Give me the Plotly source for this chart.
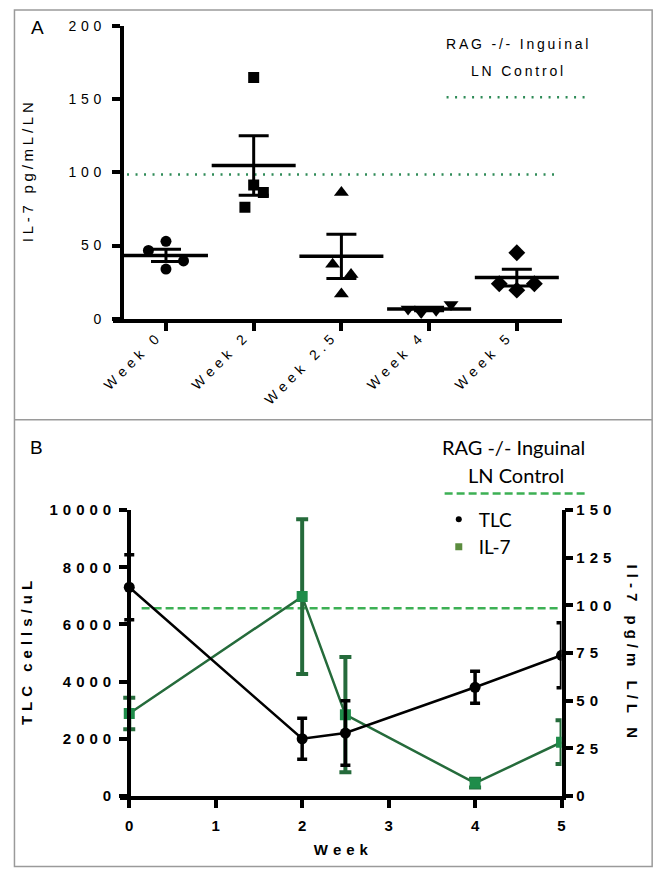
import numpy as np
import plotly.graph_objects as go

W, H = 662, 876

# panel A: IL-7 per lymph node, one value per mouse
WEEKS_A = ["Week 0", "Week 2", "Week 2.5", "Week 4", "Week 5"]
IL7_WEEK0 = [52.9, 46.7, 39.5, 34.0]
IL7_WEEK2 = [164.7, 91.3, 86.2, 76.2]
IL7_WEEK25 = [86.2, 37.3, 30.2, 16.9]
IL7_WEEK4 = [6.8, 4.4, 5.9, 9.8]
IL7_WEEK5 = [45.1, 24.0, 24.0, 19.6]
RAG_CONTROL = 98.5
Y_TICKS_A = [0, 50, 100, 150, 200]

# panel B: total lymphocyte count (mean, error) and IL-7 over time
WEEKS_B = [0, 2, 2.5, 4, 5]
TLC_MEAN = [7300, 2000, 2200, 3800, 4920]
TLC_ERR = [1140, 720, 1130, 560, 1140]
X_TICKS_B = [0, 1, 2, 3, 4, 5]
Y_TICKS_TLC = [0, 2000, 4000, 6000, 8000, 10000]
Y_TICKS_IL7 = [0, 25, 50, 75, 100, 125, 150]

# horizontal scatter of the dots inside each column (in category units)
JITTER = [[0, -0.2, 0.2, 0], [0, 0, 0.11, -0.1], [0, -0.1, 0.11, 0],
          [-0.24, -0.09, 0.08, 0.25], [0, -0.2, 0.2, 0]]
SYMBOLS = ["circle", "square", "triangle-up", "triangle-down", "diamond"]
SIZES = [11, 11, 13, 13, 13]

ARIAL = "Liberation Sans, Arial, sans-serif"
CALIBRI = "Lato, Carlito, sans-serif"
GREEN_LINE = "#256b3b"
GREEN_MARK = "#1f8c4a"
GREEN_CTRL = "#3cb054"
GREEN_DOT = "#2e8b57"
BORDER = "#9a9a9a"


def spaced(s, gap="\u2004"):
    # Prism style letter spacing
    return gap.join(s)


def px(x):
    return x / W


def py(y):
    return 1 - y / H


groups = [IL7_WEEK0, IL7_WEEK2, IL7_WEEK25, IL7_WEEK4, IL7_WEEK5]
pos_a = list(range(len(WEEKS_A)))
means_a = [float(np.mean(g)) for g in groups]
sd_a = [float(np.std(g, ddof=1)) for g in groups]
sem_a = [s / np.sqrt(len(g)) for s, g in zip(sd_a, groups)]

fig = go.Figure()

# ---- panel A ----
for i, g in enumerate(groups):
    fig.add_trace(go.Scatter(
        x=[pos_a[i] + j for j in JITTER[i]],
        y=g,
        mode="markers",
        marker=dict(symbol=SYMBOLS[i], size=SIZES[i], color="black"),
        showlegend=False,
        hoverinfo="y",
        xaxis="x", yaxis="y"
    ))

fig.add_trace(go.Scatter(
    x=pos_a,
    y=means_a,
    mode="markers",
    marker=dict(symbol="line-ew", size=60, line=dict(width=3.5, color="black")),
    error_y=dict(type="data", array=sem_a, thickness=3, width=15, color="black"),
    showlegend=False,
    xaxis="x", yaxis="y"
))

# ---- panel B ----
fig.add_trace(go.Scatter(
    x=WEEKS_B,
    y=means_a,
    mode="lines+markers",
    line=dict(color=GREEN_LINE, width=2.5),
    marker=dict(symbol="square", size=11, color=GREEN_MARK),
    error_y=dict(type="data", array=sd_a, thickness=4, width=6, color=GREEN_LINE),
    showlegend=False,
    xaxis="x2", yaxis="y2"
))

fig.add_trace(go.Scatter(
    x=WEEKS_B,
    y=TLC_MEAN,
    mode="lines+markers",
    line=dict(color="black", width=2.5),
    marker=dict(symbol="circle", size=11, color="black"),
    error_y=dict(type="data", array=TLC_ERR, thickness=3.5, width=5, color="black"),
    showlegend=False,
    xaxis="x2", yaxis="y3"
))

# legend-only entries for panel B
fig.add_trace(go.Scatter(x=[None], y=[None], mode="markers", name="TLC",
                         marker=dict(symbol="circle", size=6, color="black"),
                         xaxis="x2", yaxis="y3"))
fig.add_trace(go.Scatter(x=[None], y=[None], mode="markers", name="IL-7",
                         marker=dict(symbol="square", size=7, color="#5b8c3e"),
                         xaxis="x2", yaxis="y3"))

axis_a = dict(showgrid=False, zeroline=False, showline=True, linecolor="black",
              linewidth=4, ticks="outside", ticklen=8, tickwidth=3.5,
              tickcolor="black")
axis_b = dict(showgrid=False, zeroline=False, showline=True, linecolor="black",
              linewidth=3.5, ticks="outside", ticklen=8, tickwidth=3.5,
              tickcolor="black")
bold_ticks = dict(family=ARIAL, size=15, color="black", weight="bold")

fig.update_layout(
    width=W, height=H, autosize=False,
    margin=dict(l=0, r=0, t=0, b=0),
    plot_bgcolor="white", paper_bgcolor="white",
    xaxis=dict(
        axis_a, domain=[px(103), px(563)], range=[-0.6, 4.51], anchor="y",
        tickvals=pos_a, ticktext=[spaced(w) for w in WEEKS_A], tickangle=-45,
        ticklabelstandoff=-5, ticklabelshift=-11,
        tickfont=dict(family=ARIAL, size=14, color="black")
    ),
    yaxis=dict(
        axis_a, domain=[py(316), py(17)], range=[0, 200], anchor="free",
        position=px(112), tickvals=Y_TICKS_A, ticklabelstandoff=8,
        ticktext=[spaced(str(t)) for t in Y_TICKS_A],
        tickfont=dict(family=ARIAL, size=14, color="black"),
        title=dict(text=spaced("IL-7 pg/mL/LN", "\u2005"), standoff=30,
                   font=dict(family=ARIAL, size=15, color="black"))
    ),
    xaxis2=dict(
        axis_b, domain=[px(110), px(563)], range=[-0.105, 5.0], anchor="y2",
        tickvals=X_TICKS_B, tickfont=bold_ticks, ticklabelstandoff=5,
        title=dict(text=spaced("Week"), standoff=13,
                   font=dict(family=ARIAL, size=15, color="black", weight="bold"))
    ),
    yaxis2=dict(
        axis_b, domain=[py(802.5), py(511)], range=[0, 150], anchor="x2",
        side="right", tickvals=Y_TICKS_IL7,
        ticktext=[spaced(str(t)) for t in Y_TICKS_IL7], tickfont=bold_ticks
    ),
    yaxis3=dict(
        axis_b, range=[0, 10000], overlaying="y2", side="left", anchor="free",
        position=px(119), tickvals=Y_TICKS_TLC, ticklabelstandoff=5,
        ticktext=[spaced(str(t)) for t in Y_TICKS_TLC], tickfont=bold_ticks,
        title=dict(text=spaced("TLC cells/uL"), standoff=12,
                   font=dict(family=ARIAL, size=15, color="black", weight="bold"))
    ),
    legend=dict(x=px(437), y=py(501), xanchor="left", yanchor="top",
                bgcolor="rgba(0,0,0,0)", borderwidth=0, tracegroupgap=0,
                font=dict(family=CALIBRI, size=19, color="black")),
)

shapes = [
    # control level, panel A (dotted) and its legend key
    dict(type="line", xref="x", yref="y", x0=-0.444, x1=4.478,
         y0=RAG_CONTROL, y1=RAG_CONTROL, layer="below",
         line=dict(color=GREEN_DOT, width=2.5, dash="2px,6.5px")),
    dict(type="line", xref="paper", yref="paper", x0=px(445), x1=px(590),
         y0=py(90), y1=py(90), line=dict(color=GREEN_DOT, width=2.5, dash="2px,6.5px")),
    # control level, panel B (dashed) and its legend key
    dict(type="line", xref="x2", yref="y2", x0=0.143, x1=5.0,
         y0=RAG_CONTROL, y1=RAG_CONTROL, layer="below",
         line=dict(color=GREEN_CTRL, width=2.5, dash="8px,4px")),
    dict(type="line", xref="paper", yref="paper", x0=px(443), x1=px(590),
         y0=py(494), y1=py(494), line=dict(color=GREEN_CTRL, width=2.5, dash="8px,4px")),
    # panel frames
    dict(type="rect", xref="paper", yref="paper", x0=px(1.5), x1=px(656),
         y0=py(874.5), y1=py(1), line=dict(color=BORDER, width=1.5)),
    dict(type="line", xref="paper", yref="paper", x0=px(1.5), x1=px(656),
         y0=py(419), y1=py(419), line=dict(color=BORDER, width=1.5)),
]
fig.update_layout(shapes=shapes)

annotations = [
    dict(text="A", x=px(25), y=py(19), font=dict(family=ARIAL, size=19)),
    dict(text="B", x=px(24), y=py(447), font=dict(family=ARIAL, size=19)),
    dict(text=spaced("RAG -/- Inguinal", "\u2009"), x=px(517), y=py(36),
         font=dict(family=ARIAL, size=14)),
    dict(text=spaced("LN Control", "\u2009"), x=px(517), y=py(63),
         font=dict(family=ARIAL, size=14)),
    dict(text="RAG -/- Inguinal", x=px(514), y=py(447),
         font=dict(family=CALIBRI, size=20)),
    dict(text="LN Control", x=px(516), y=py(475),
         font=dict(family=CALIBRI, size=20)),
    dict(text=spaced("Il-7 pg/m L/L N"), x=px(636), y=py(655), textangle=90,
         font=dict(family=ARIAL, size=15, weight="bold")),
]
for a in annotations:
    a.update(xref="paper", yref="paper", showarrow=False,
             xanchor="center", yanchor="middle")
    a["font"].setdefault("color", "black")
fig.update_layout(annotations=annotations)

# the page's default 8px body margin would push the figure off its box
fig.write_html(
    "out.html",
    config={"displayModeBar": False},
    post_script="document.body.style.margin = '0'; document.body.style.overflow = 'hidden';"
)
